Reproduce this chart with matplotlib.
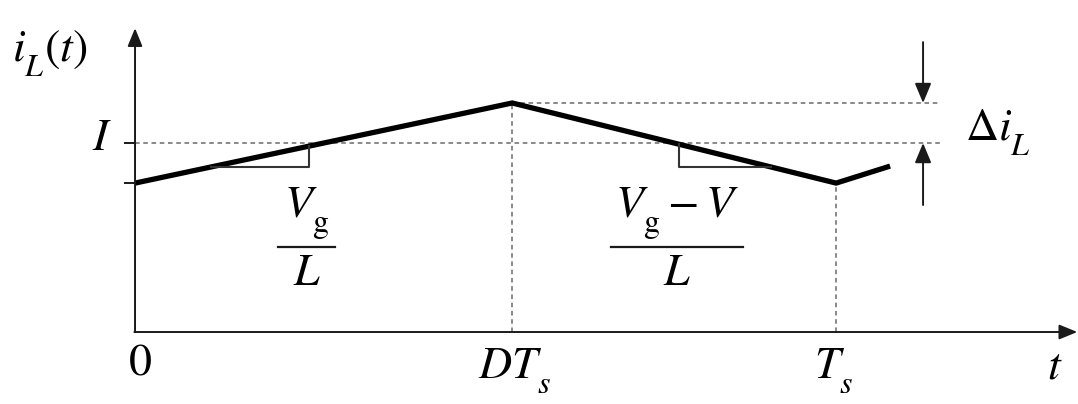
import numpy as np
import matplotlib
matplotlib.use("Agg")
from matplotlib import pyplot as plt
from matplotlib import _mathtext

# book-style subscripts sit lower than the mathtext default
for consts in (_mathtext.FontConstantsBase, _mathtext.STIXFontConstants):
    consts.sub1 = 0.75

plt.rcParams['mathtext.fontset'] = 'stix'
plt.rcParams['font.family'] = ['STIXGeneral', 'DejaVu Serif']

# time axis in units of Ts, current in units of I
Ts = 1.0
D = 0.538
I = 1.0
dI = 0.212
t_wave = [0.0, D * Ts, Ts, 1.077]
i_wave = [I - dI, I + dI, I - dI, 0.878]

# slope triangles: corner time and depth below the line
tri_t = [0.248, 0.776]
tri_depth = 0.11

ink = '#1a1a1a'
dash_col = '#6a6a6a'
dash = (0, (3, 2.4))
fs = 33

fig = plt.figure(figsize=(10.78, 4.04), dpi=100)
ax = fig.add_axes([0, 0, 1, 1])
ax.set_xlim(-0.1926, 1.345)
ax.set_ylim(-0.381, 1.757)
ax.axis('off')

# axes with arrows
arrow_kw = dict(arrowstyle='-|>,head_length=1.1,head_width=0.45', color=ink, lw=1.4,
                shrinkA=0, shrinkB=0)
ax.annotate('', xy=(0, 1.608), xytext=(0, 0), arrowprops=arrow_kw)
ax.annotate('', xy=(1.344, 0), xytext=(-0.001, 0), arrowprops=arrow_kw)

# dashed guides
x_end = 1.148
ax.plot([0, x_end], [I, I], color=dash_col, lw=1.1, linestyle=dash)
ax.plot([D * Ts, x_end], [I + dI, I + dI], color=dash_col, lw=1.1, linestyle=dash)
ax.plot([D * Ts, D * Ts], [0, I + dI], color=dash_col, lw=1.1, linestyle=dash)
ax.plot([Ts, Ts], [0, I - dI], color=dash_col, lw=1.1, linestyle=dash)

# small ticks on the y axis
for yv in [I, I - dI]:
    ax.plot([-0.0143, 0], [yv, yv], color=ink, lw=1.4)

# waveform
ax.plot(t_wave, i_wave, color='black', lw=3.8, solid_joinstyle='miter',
        solid_capstyle='butt')

# slope triangles
for k, tc in enumerate(tri_t):
    yl = np.interp(tc, t_wave, i_wave)
    yb = I - tri_depth - 0.017
    seg = slice(0, 2) if k == 0 else slice(1, 3)
    tw, iw = t_wave[seg], i_wave[seg]
    if iw[0] > iw[1]:
        tw, iw = tw[::-1], iw[::-1]
    tb = np.interp(yb, iw, tw)
    ax.plot([tb, tc, tc], [yb, yb, yl], color='#333333', lw=1.5)

# Delta i_L arrows
ta = 1.124
head_kw = dict(arrowstyle='-|>,head_length=1.2,head_width=0.5', color=ink, lw=1.4,
               shrinkA=0, shrinkB=0)
ax.annotate('', xy=(ta, I + dI), xytext=(ta, 1.534), arrowprops=head_kw)
ax.annotate('', xy=(ta, I), xytext=(ta, 0.672), arrowprops=head_kw)

# labels
ax.text(-0.121, 1.61, r'$i_L(t)$', fontsize=fs, ha='center', va='top')
ax.text(-0.047, I + 0.02, r'$I$', fontsize=fs, ha='center', va='center')
ax.text(0.007, -0.169, r'$0$', fontsize=fs, ha='center', va='center')
ax.text(D * Ts + 0.003, -0.08, r'$DT_s$', fontsize=fs, ha='center', va='top')
ax.text(Ts - 0.003, -0.08, r'$T_s$', fontsize=fs, ha='center', va='top')
ax.text(1.312, -0.08, r'$t$', fontsize=fs, ha='center', va='top')
ax.text(1.184, 1.016, r'$\Delta i_L$', fontsize=fs, ha='left', va='baseline')

# slope fractions
frac_num = [r'$V_\mathrm{g}$', r'$V_\mathrm{g} - V$']
frac_x = [0.245, 0.773]
frac_w = [0.081, 0.187]
for num, fx, fw in zip(frac_num, frac_x, frac_w):
    ax.text(fx, 0.608, num, fontsize=fs, ha='center', va='baseline')
    ax.plot([fx - fw / 2, fx + fw / 2], [0.450, 0.450], color=ink, lw=1.6)
    ax.text(fx, 0.249, r'$L$', fontsize=fs, ha='center', va='baseline')

fig.savefig('out.png', dpi=100)
